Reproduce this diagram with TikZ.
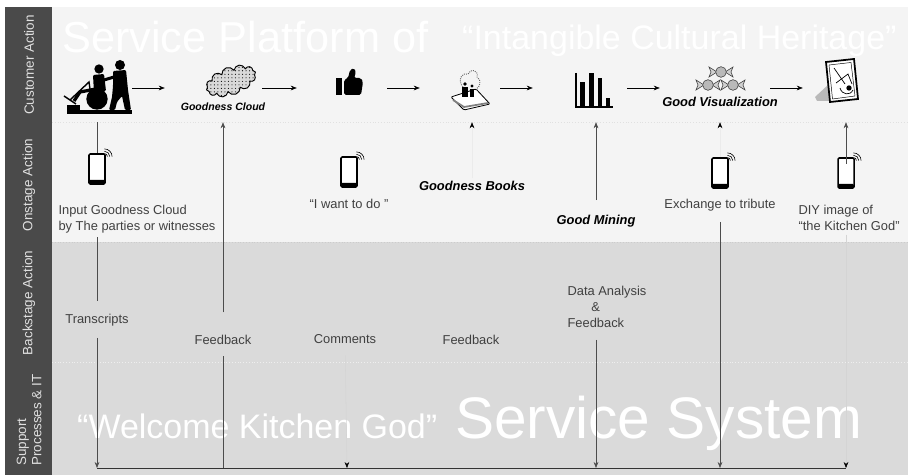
\documentclass[tikz,border=0pt]{standalone}
\usepackage{fontspec}
\setmainfont{Liberation Sans}
\usetikzlibrary{arrows.meta, positioning, shapes.symbols, patterns}

\definecolor{laneback}{RGB}{244,244,244}
\definecolor{lanesupport}{RGB}{218,218,218}
\definecolor{laneband}{RGB}{74,74,74}
\definecolor{inkgray}{RGB}{64,64,64}

% wifi waves on a phone
\newcommand{\wifi}[1]{%
  \foreach \r in {0.9,1.6,2.3}
    \draw[line width=0.5pt] ([xshift=\r mm]#1.north east) ++(-0.4mm,-1mm) arc[start angle=0, end angle=90, radius=\r mm];
}

\begin{document}
\begin{tikzpicture}[
    x=0.3mm, y=-0.3mm,
    lanetitle/.style={rotate=90, text=white!88!black, font=\fontsize{11.5}{13}\selectfont, align=left},
    bigtext/.style={anchor=base west, inner sep=0, text=white},
    note/.style={text=inkgray, font=\fontsize{11}{13.6}\selectfont, inner sep=1mm},
    backnote/.style={note, inner ysep=3.6mm},
    tag/.style={font=\fontsize{11}{13}\selectfont\bfseries\itshape, inner sep=1mm},
    iconbox/.style={inner sep=0, minimum height=20.4mm},
    phone/.style={draw=black, line width=1.3pt, fill=white, rounded corners=1pt, minimum width=4.8mm, minimum height=9mm, inner sep=0,
        path picture={\fill[black] (path picture bounding box.south west) rectangle ([yshift=1.2mm]path picture bounding box.south east);}},
    flow/.style={-{Stealth[length=1.8mm, width=1.4mm]}, line width=0.5pt},
    link/.style={draw=black!70, line width=0.45pt},
    ghost/.style={-{Stealth[length=1.8mm, width=1.4mm, color=black]}, draw=black!8, line width=0.45pt},
    ghostdark/.style={ghost, draw=black!17}
]
\useasboundingbox (0,0) rectangle (908,475);

% Lanes
\fill[white] (0,0) rectangle (908,475);
\fill[laneband] (5,7) rectangle (52,475);
\fill[laneback] (52,7) rectangle (908,242);
\fill[lanesupport] (52,242) rectangle (908,475);
\draw[black!12, dotted] (52,122) -- (908,122);
\draw[black!20, dotted] (52,242) -- (908,242);
\draw[white!55!lanesupport, dotted] (52,362) -- (908,362);

\node[lanetitle] (lcust) at (29,65) {Customer Action};
\node[lanetitle] (lon) at (29,185) {Onstage Action};
\node[lanetitle] (lback) at (29,303) {Backstage Action};
\node[lanetitle] (lsup) at (29,420) {Support\\Processes \& IT};

% Titles
\node[bigtext, font=\fontsize{37}{40}\selectfont] (ptitle) at (62,53) {Service Platform of};
\node[bigtext, font=\fontsize{29}{32}\selectfont] (pheritage) at (462,50) {“Intangible Cultural Heritage”};
\node[bigtext, font=\fontsize{29}{32}\selectfont] (swelcome) at (77,438) {“Welcome Kitchen God”};
\node[bigtext, font=\fontsize{50}{54}\selectfont] (stitle) at (455,438) {Service System};

% Wheelchair
\fill (67,110) rectangle (132,114);
\fill (67,105) rectangle (80,110);
\draw[line width=1.2pt] (70,100) -- (89,82) -- (91,96);
\draw[line width=1.2pt] (64,96) -- (76,104);
\fill (97,99) circle[radius=3.2mm];
\fill (99,69) circle[radius=1.4mm];
\fill[rounded corners=1pt] (93,75) -- (104,74) -- (106,91) -- (94,93) -- cycle;
\draw[line width=2.8pt] (96,89) -- (80,92) -- (74,101);
\fill (120,65) circle[radius=1.5mm];
\fill[rounded corners=1pt] (113,71) -- (126,70) -- (128,90) -- (131,110) -- (125,110) -- (122,96) -- (117,102) -- (115,110) -- (109,110) -- (112,97) -- (113,86) -- cycle;
\draw[line width=2.6pt, line cap=round] (114,77) -- (104,80);

% Cloud
\node[cloud, cloud puffs=12, aspect=1.9, draw, line width=0.8pt, fill=gray!30, minimum width=15.6mm, minimum height=8.4mm,
    rotate=20, inner sep=0, postaction={pattern=dots}] (cloudart) at (231,81) {};

% Thumb
\fill (336,78) rectangle (342,95);
\fill[rounded corners=1.5pt] (344,80) -- (348,78) -- (350,70) -- (354,68) -- (356,72) -- (354,78) -- (361,78) -- (363,82) -- (361,95) -- (344,95) -- cycle;

% Book with family
\draw[line width=0.7pt, fill=white, rounded corners=1pt] (451,97) -- (476,89) -- (490,104) -- (464,110) -- cycle;
\draw[line width=1.5pt, gray] (453,100) -- (464,107) -- (488,103);
\draw[line width=0.8pt, black!60, densely dotted] (463,87) .. controls (457,80) and (462,72) .. (468,74) .. controls (470,68) and (479,70) .. (477,77) .. controls (482,80) and (480,88) .. (476,89);
\fill (465,84) circle[radius=0.55mm];
\fill (462,87) rectangle (468,97);
\fill (472,86) circle[radius=0.5mm];
\fill (470,89) rectangle (474,97);

% Bar chart
\draw[line width=1pt] (576,73) -- (576,107) -- (613,107);
\fill (580,82) rectangle (585,107);
\fill (589,73) rectangle (594,107);
\fill (598,78) rectangle (602,107);
\fill (606,98) rectangle (610,107);

% Candies
\foreach \cx/\cy in {721/72, 708/85, 733/85} {
  \filldraw[fill=gray!35, draw=black!75, line width=0.5pt] (\cx-4,\cy) -- (\cx-12,\cy-5) -- (\cx-10,\cy) -- (\cx-12,\cy+5) -- cycle;
  \filldraw[fill=gray!35, draw=black!75, line width=0.5pt] (\cx+4,\cy) -- (\cx+12,\cy-5) -- (\cx+10,\cy) -- (\cx+12,\cy+5) -- cycle;
  \filldraw[fill=gray!55, draw=black!75, line width=0.5pt] (\cx,\cy) circle[radius=1.6mm];
}

% Framed picture
\fill[gray!55] (829,84) -- (815,97) -- (817,101) -- (831,101) -- cycle;
\draw[line width=1.5pt, fill=white] (826,62) -- (854,59) -- (858,99) -- (830,102) -- cycle;
\draw[line width=0.4pt] (829,65) -- (851,62.5) -- (855,96) -- (832.5,99) -- cycle;
\draw[line width=0.6pt] (834,68) -- (845,84);
\draw[line width=0.6pt] (836,83) -- (848,74) -- (852,84);
\draw[line width=0.6pt] (840,88) .. controls (842,95) and (850,96) .. (853,90);
\fill (849,88) circle[radius=0.8mm];

% Customer row
\node[iconbox, minimum width=20.1mm] (wheel) at (98.5,88) {};
\node[iconbox, minimum width=17.4mm] (cloud) at (231,88) {};
\node[iconbox, minimum width=8.4mm] (thumb) at (349,88) {};
\node[iconbox, minimum width=12.6mm] (book) at (470,88) {};
\node[iconbox, minimum width=11.4mm] (chart) at (594,88) {};
\node[iconbox, minimum width=15mm] (candy) at (720,88) {};
\node[iconbox, minimum width=13.8mm] (frame) at (840,88) {};

\node[tag, anchor=base, font=\fontsize{9}{11}\selectfont\bfseries\itshape] (gcloud) at (223,111) {Goodness Cloud};
\node[tag, anchor=base] (gvis) at (720,107) {Good Visualization};

\draw[flow, shorten >=11.1mm] (wheel) -- (cloud);
\draw[flow, shorten <=0.6mm, shorten >=11.4mm] (cloud) -- (thumb);
\draw[flow, shorten <=7.2mm, shorten >=8.7mm] (thumb) -- (book);
\draw[flow, shorten <=2.7mm, shorten >=12.6mm] (book) -- (chart);
\draw[flow, shorten <=4.2mm, shorten >=10.5mm] (chart) -- (candy);
\draw[flow, shorten <=7.5mm, shorten >=4.2mm] (candy) -- (frame);

% Onstage row
\node[phone] (phone1) at (97,169) {};
\node[phone] (phone2) at (349,172) {};
\node[phone] (phone3) at (720,173) {};
\node[phone] (phone4) at (846,173) {};
\wifi{phone1}
\wifi{phone2}
\wifi{phone3}
\wifi{phone4}

\node[note, align=left, anchor=north west] (input) at (55,202) {Input Goodness Cloud\\by The parties or witnesses};
\node[note, anchor=base] (want) at (349,209) {“I want to do ”};
\node[tag, anchor=base] (gbooks) at (472,191) {Goodness Books};
\node[tag, anchor=base] (gmining) at (596,225) {Good Mining};
\node[note, anchor=base] (tribute) at (720,209) {Exchange to tribute};
\node[note, align=left, anchor=north west] (diy) at (795,202) {DIY image of\\“the Kitchen God”};

% Backstage row
\node[backnote, anchor=base] (trans) at (97,323) {Transcripts};
\node[backnote, anchor=base] (fb1) at (223,344) {Feedback};
\node[backnote, anchor=base] (comm) at (345,343) {Comments};
\node[backnote, anchor=base] (fb2) at (471,344) {Feedback};
\node[backnote, align=left, anchor=north west] (data) at (564,274) {Data Analysis\\\hspace*{1.85em}\&\\Feedback};

% Support line
\coordinate (b1) at (97,468);
\coordinate (b2) at (223,468);
\coordinate (b3) at (347,468);
\coordinate (b5) at (596,468);
\coordinate (b6) at (720,468);
\coordinate (b7) at (846,468);

% Links
\draw[link] (wheel.south -| phone1) -- (phone1);
\draw[link] (input.south -| trans) -- (trans);
\draw[link, flow] (trans) -- (b1);
\draw[link] (b2) -- (fb1);
\draw[link, flow, shorten <=3mm] (fb1) -- (fb1 |- cloud.south);
\draw[ghostdark] (comm) -- (b3);
\draw[ghost] (gbooks) -- (gbooks |- book.south);
\draw[link, flow, shorten <=3.6mm] (gmining) -- (gmining |- chart.south);
\draw[link, flow] (data.south -| b5) -- (b5);
\draw[ghost] (phone3) -- (phone3 |- candy.south);
\draw[link, flow, shorten <=2mm] (tribute) -- (b6);
\draw[link, flow, shorten <=-2mm] (phone4) -- (phone4 |- frame.south);
\draw[ghostdark] (diy.south -| b7) -- (b7);
\draw[draw=black!80, line width=0.7pt] (b1) -- (b7);

\end{tikzpicture}
\end{document}
